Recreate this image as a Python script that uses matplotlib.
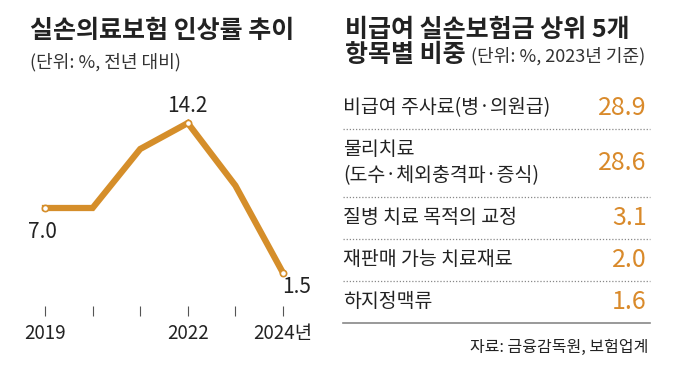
import numpy as np
import matplotlib
matplotlib.use("Agg")
import matplotlib.pyplot as plt

plt.rcParams['font.family'] = ['Noto Sans CJK KR', 'DejaVu Sans']

# left chart: premium increase rate (%)
years = [2019, 2020, 2021, 2022, 2023, 2024]
rates = [7.0, 7.0, 12.0, 14.2, 8.9, 1.5]
tick_labels = ['2019', '', '', '2022', '', '2024년']
labelled = {0: '7.0', 3: '14.2', 5: '1.5'}

# right table: top 5 non-covered items (share %, 2023)
items = ['비급여 주사료(병·의원급)', '물리치료\n(도수·체외충격파·증식)', '질병 치료 목적의 교정',
         '재판매 가능 치료재료', '하지정맥류']
shares = [28.9, 28.6, 3.1, 2.0, 1.6]

W, H = 680, 379
line_c = '#D58E2A'
val_c = '#D98A2B'
txt_c = '#222222'

fig = plt.figure(figsize=(W / 100, H / 100), dpi=100)
fig.patch.set_facecolor('white')


def px_axes(x0, y0, x1, y1):
    # axes from pixel box (top-left origin)
    return fig.add_axes([x0 / W, 1 - y1 / H, (x1 - x0) / W, (y1 - y0) / H])


# titles
fig.text(30 / W, 1 - 31 / H, '실손의료보험 인상률 추이', fontsize=18, fontweight='bold',
         color=txt_c, va='center', ha='left')
fig.text(30 / W, 1 - 62 / H, '(단위: %, 전년 대비)', fontsize=13, color='#333333',
         va='center', ha='left')
fig.text(345 / W, 1 - 30 / H, '비급여 실손보험금 상위 5개', fontsize=18, fontweight='bold',
         color=txt_c, va='center', ha='left')
fig.text(345 / W, 1 - 55 / H, '항목별 비중', fontsize=18, fontweight='bold',
         color=txt_c, va='center', ha='left')
fig.text(471 / W, 1 - 56 / H, '(단위: %, 2023년 기준)', fontsize=13, color='#333333',
         va='center', ha='left')

# line chart
ax = px_axes(10, 95, 300, 316)
ax.set_xlim(2018.265, 2024.357)
ax.set_ylim(7 - (316 - 208) / 11.8, 7 + (208 - 95) / 11.8)
ax.plot(years, rates, color=line_c, lw=4.5, solid_joinstyle='miter', zorder=2)
mk = list(labelled.keys())
ax.plot([years[i] for i in mk], [rates[i] for i in mk], 'o', ms=4.5, mfc='white',
        mec=line_c, mew=1.2, zorder=3)
ax.annotate(labelled[0], (years[0], rates[0]), xytext=(-2, -17), textcoords='offset points',
            ha='center', va='center', fontsize=15, color=txt_c)
ax.annotate(labelled[3], (years[3], rates[3]), xytext=(0, 12), textcoords='offset points',
            ha='center', va='center', fontsize=15, color=txt_c)
ax.annotate(labelled[5], (years[5], rates[5]), xytext=(10, -10), textcoords='offset points',
            ha='center', va='center', fontsize=15, color=txt_c)
for s in ax.spines.values():
    s.set_visible(False)
ax.set_yticks([])
ax.set_xticks(years)
ax.set_xticklabels(tick_labels)
ax.tick_params(axis='x', direction='in', length=7, width=0.8, color='#555555',
               labelsize=13.5, labelcolor=txt_c, pad=5)
ax.patch.set_alpha(0)

# table
heights = [1.6 if '\n' in s else 1.0 for s in items]
edges = np.concatenate([[0], np.cumsum(heights)])
centers = (edges[:-1] + edges[1:]) / 2
tax = px_axes(343, 87, 650, 323)
tax.set_xlim(0, 1)
tax.set_ylim(edges[-1], 0)
tax.axis('off')
for name, val, c in zip(items, shares, centers):
    tax.text(0.0, c, name, fontsize=14, color=txt_c, va='center', ha='left', linespacing=1.3)
    tax.text(0.99, c, f'{val:.1f}', fontsize=18, color=val_c, va='center', ha='right')
for e in edges[1:-1]:
    tax.plot([0, 1], [e, e], color='#888888', lw=0.9, ls=(0, (1, 1.5)), clip_on=False)
tax.plot([0, 1], [edges[-1], edges[-1]], color='#888888', lw=1.2, clip_on=False)

fig.text(648 / W, 1 - 347 / H, '자료: 금융감독원, 보험업계', fontsize=11.5, color=txt_c,
         va='center', ha='right')

fig.savefig('out.png', dpi=100)
